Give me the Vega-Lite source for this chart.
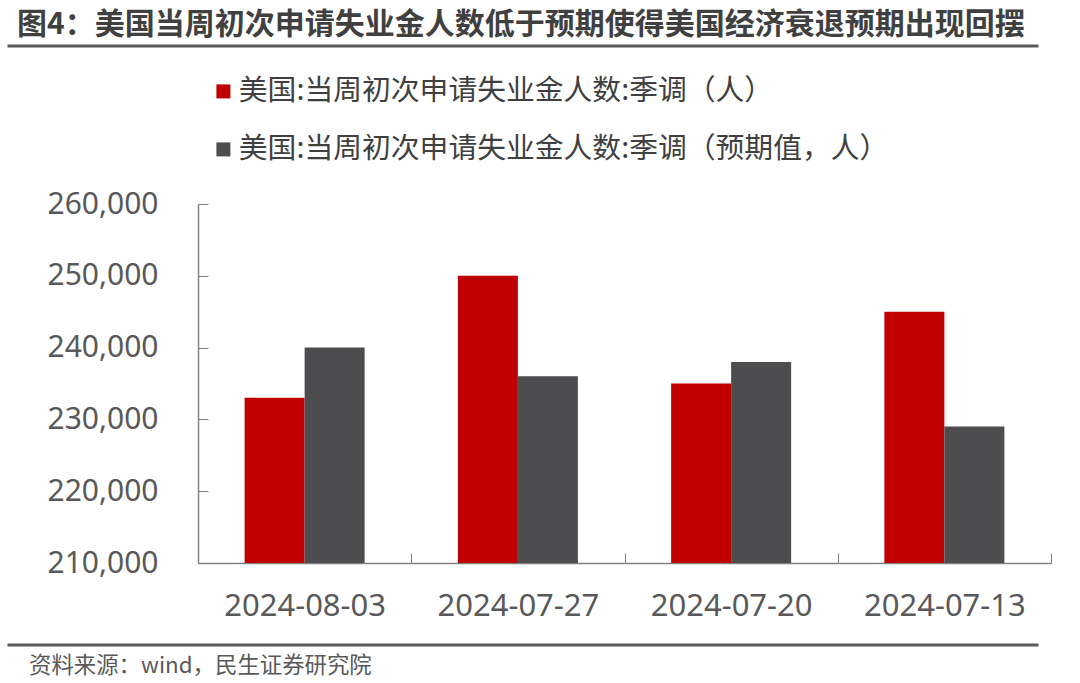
{
  "$schema": "https://vega.github.io/schema/vega-lite/v6.json",
  "padding": {"left": 7, "top": 8, "right": 20, "bottom": 4},
  "background": "white",
  "config": {"view": {"stroke": null}, "font": "Noto Sans CJK SC"},
  "spacing": 22,
  "resolve": {"scale": {"color": "independent"}, "legend": {"color": "independent"}},
  "datasets": {
    "claims": [
      {"week": "2024-08-03", "series": "美国:当周初次申请失业金人数:季调（人）", "claims": 233000},
      {"week": "2024-08-03", "series": "美国:当周初次申请失业金人数:季调（预期值，人）", "claims": 240000},
      {"week": "2024-07-27", "series": "美国:当周初次申请失业金人数:季调（人）", "claims": 250000},
      {"week": "2024-07-27", "series": "美国:当周初次申请失业金人数:季调（预期值，人）", "claims": 236000},
      {"week": "2024-07-20", "series": "美国:当周初次申请失业金人数:季调（人）", "claims": 235000},
      {"week": "2024-07-20", "series": "美国:当周初次申请失业金人数:季调（预期值，人）", "claims": 238000},
      {"week": "2024-07-13", "series": "美国:当周初次申请失业金人数:季调（人）", "claims": 245000},
      {"week": "2024-07-13", "series": "美国:当周初次申请失业金人数:季调（预期值，人）", "claims": 229000}
    ]
  },
  "vconcat": [
    {
      "width": 1028,
      "height": 0.01,
      "view": {"stroke": "#595959", "strokeWidth": 3},
      "title": {
        "text": "图4：美国当周初次申请失业金人数低于预期使得美国经济衰退预期出现回摆",
        "anchor": "start",
        "dx": 8,
        "fontSize": 30,
        "fontWeight": "bold",
        "color": "#404040",
        "font": "Noto Sans CJK SC",
        "offset": 6
      },
      "data": {"values": []},
      "mark": "rule",
      "encoding": {}
    },
    {
      "spacing": 37,
      "resolve": {"scale": {"color": "independent"}, "legend": {"color": "independent"}},
      "hconcat": [
        {
          "width": 1,
          "height": 1,
          "data": {"values": []},
          "mark": "rule",
          "encoding": {}
        },
        {
          "width": 853,
          "height": 359,
          "data": {"name": "claims"},
          "mark": {"type": "bar", "clip": true},
          "encoding": {
            "x": {
              "field": "week",
              "type": "nominal",
              "sort": null,
              "scale": {"paddingInner": 0, "paddingOuter": 0},
              "axis": {
                "title": null,
                "labelAngle": 0,
                "labelFontSize": 31,
                "labelFont": "Noto Sans",
                "labelColor": "#595959",
                "labelPadding": 38,
                "tickSize": -10,
                "tickBand": "extent",
                "tickColor": "#808080",
                "domainColor": "#808080",
                "domainWidth": 1.5
              }
            },
            "xOffset": {
              "field": "series",
              "type": "nominal",
              "sort": null,
              "scale": {"paddingInner": 0, "paddingOuter": 0.777}
            },
            "y": {
              "field": "claims",
              "type": "quantitative",
              "scale": {"domain": [210000, 260000], "nice": false, "zero": false},
              "axis": {
                "title": null,
                "values": [210000, 220000, 230000, 240000, 250000, 260000],
                "format": ",.0f",
                "labelFontSize": 30,
                "labelFont": "Noto Sans",
                "labelColor": "#595959",
                "labelPadding": 50,
                "tickSize": -10,
                "tickColor": "#808080",
                "domainColor": "#808080",
                "domainWidth": 1.5,
                "grid": false,
                "labelFlush": false,
                "labelOverlap": false
              }
            },
            "color": {
              "field": "series",
              "type": "nominal",
              "sort": null,
              "scale": {"range": ["#C00000", "#4D4D4F"]},
              "legend": {
                "orient": "none",
                "legendX": 4,
                "legendY": -134,
                "direction": "vertical",
                "title": null,
                "symbolType": "square",
                "symbolSize": 196,
                "symbolStrokeWidth": 0,
                "labelFontSize": 28.8,
                "labelColor": "#404040",
                "labelFont": "Noto Sans CJK SC",
                "labelOffset": 1,
                "rowPadding": 28,
                "labelLimit": 1000,
                "padding": 7
              }
            }
          }
        }
      ]
    },
    {
      "width": 1028,
      "height": 0.01,
      "view": {"stroke": "#595959", "strokeWidth": 3},
      "title": {
        "text": "资料来源：wind，民生证券研究院",
        "orient": "bottom",
        "anchor": "start",
        "dx": 20,
        "fontSize": 22.4,
        "fontWeight": "normal",
        "color": "#595959",
        "font": "Noto Sans CJK SC",
        "offset": 10
      },
      "data": {"values": []},
      "mark": "rule",
      "encoding": {}
    }
  ]
}
